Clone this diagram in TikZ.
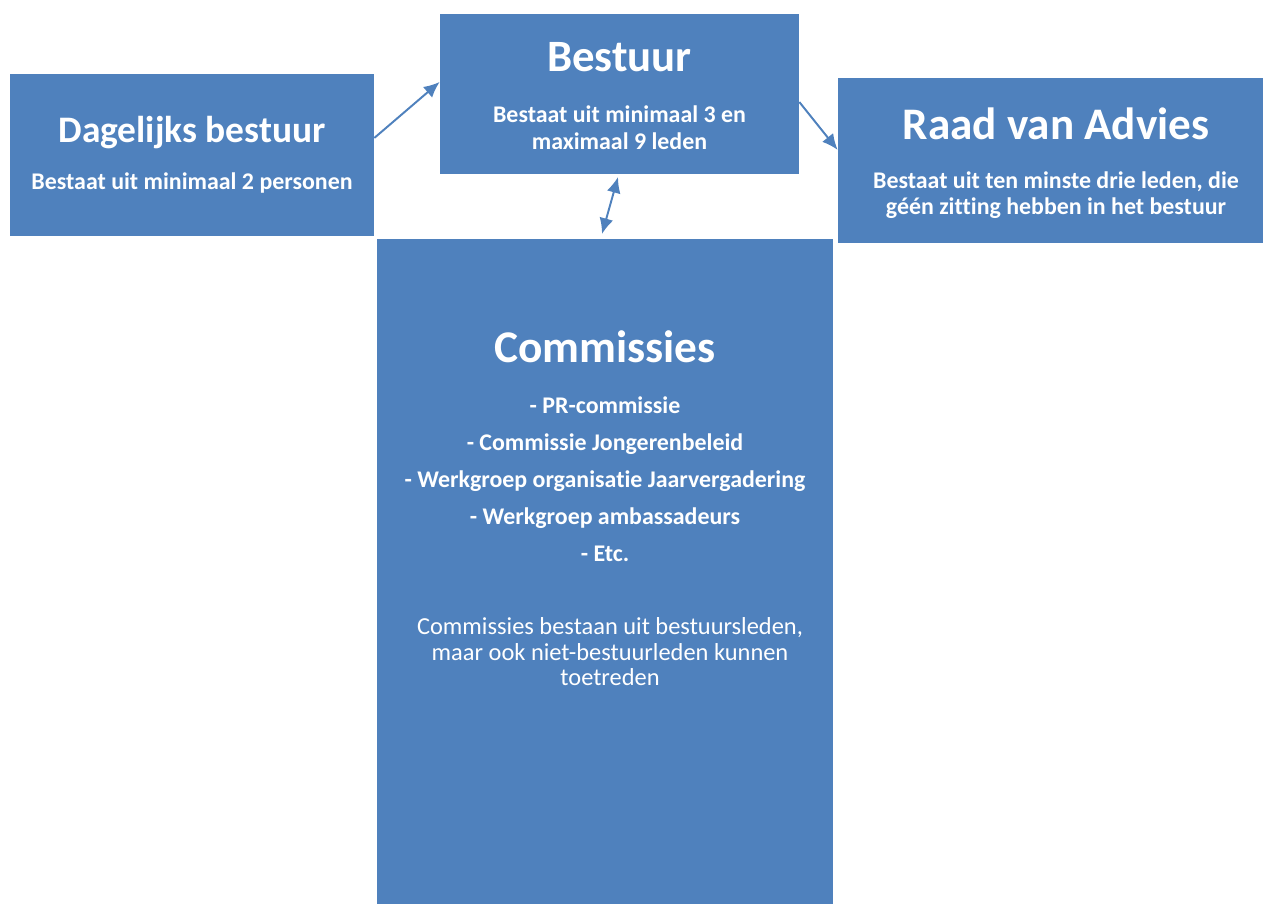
\documentclass[tikz,border=0pt]{standalone}
\usepackage{fontspec}
\setmainfont{Carlito}[Ligatures={NoCommon}]
\usepackage{tikz}
\usetikzlibrary{arrows.meta,calc,positioning}
\definecolor{boxblue}{HTML}{4F81BD}
\tikzset{
  blok/.style={fill=boxblue,draw=none,inner sep=0pt},
  kop/.style={text=white,font=\bfseries,inner sep=0pt,align=center},
  tekst/.style={text=white,font=\bfseries,inner sep=0pt,align=center},
  pijl/.style={draw=boxblue,line width=1.1pt,-{Latex[length=9pt,width=8pt]}},
}
\begin{document}
\begin{tikzpicture}[x=0.02cm,y=-0.02cm]
\useasboundingbox (0,0) rectangle (1263,904);
%blokken
\node[blok,minimum width=364*0.02cm,minimum height=162*0.02cm] (dag) at (192,155) {};
\node[blok,minimum width=359*0.02cm,minimum height=160*0.02cm] (bestuur) at (619.5,94) {};
\node[blok,minimum width=425*0.02cm,minimum height=165*0.02cm] (raad) at (1050.5,160.5) {};
\node[blok,minimum width=456*0.02cm,minimum height=665*0.02cm] (com) at (605,571.5) {};
%teksten
\node[kop,font=\bfseries\fontsize{21.3}{24}\selectfont] (dagkop) at (192,133) {Dagelijks bestuur};
\node[tekst,font=\bfseries\fontsize{13.6}{15}\selectfont] (dagtxt) at (192,183) {Bestaat uit minimaal 2 personen};
\node[kop,font=\bfseries\fontsize{25.5}{28}\selectfont] (bestkop) at (619.5,57) {Bestuur};
\node[tekst,font=\bfseries\fontsize{13.6}{15.5}\selectfont] (besttxt) at (619.5,128) {Bestaat uit minimaal 3 en\\maximaal 9 leden};
\node[kop,font=\bfseries\fontsize{25.7}{28}\selectfont] (raadkop) at (1056,124) {Raad van Advies};
\node[tekst,font=\bfseries\fontsize{13.6}{15}\selectfont] (raadtxt) at (1056,195) {Bestaat uit ten minste drie leden, die\\géén zitting hebben in het bestuur};
\node[kop,font=\bfseries\fontsize{25.8}{28}\selectfont] (comkop) at (605,347) {Commissies};
\node[tekst,font=\bfseries\fontsize{13.6}{21}\selectfont] (comlijst) at (605,479) {- PR-commissie\\- Commissie Jongerenbeleid\\- Werkgroep organisatie Jaarvergadering\\- Werkgroep ambassadeurs\\- Etc.};
\node[tekst,font=\fontsize{13.9}{14.5}\selectfont] (comtxt) at (610,652) {Commissies bestaan uit bestuursleden,\\maar ook niet-bestuurleden kunnen\\toetreden};
%pijlen
\draw[pijl] ($(dag.north east)!0.395!(dag.south east)$) -- ($(bestuur.north west)!0.425!(bestuur.south west)$);
\draw[pijl] ($(bestuur.north east)!0.55!(bestuur.south east)$) -- ($(raad.north west)!0.436!(raad.south west)$);
\coordinate (c1) at (618,177);
\coordinate (c2) at (602,234);
\draw[pijl,{Latex[length=9pt,width=8pt]}-{Latex[length=9pt,width=8pt]}] (c1) -- (c2);
\end{tikzpicture}
\end{document}
